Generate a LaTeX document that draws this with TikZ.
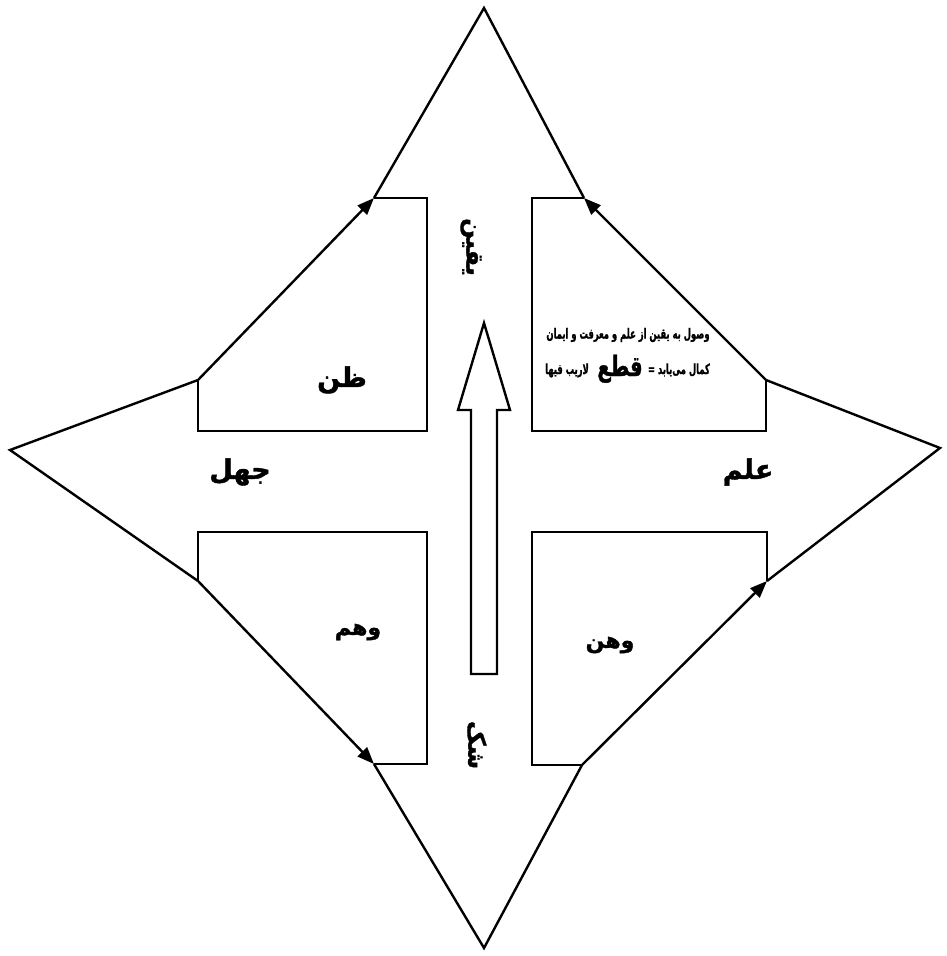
\documentclass[tikz,border=0pt]{standalone}
\usepackage{fontspec}
\usetikzlibrary{arrows.meta}
\TeXXeTstate=1
\newfontfamily\arabicfont[Script=Arabic,BoldFeatures={FakeBold=1.5}]{DejaVu Sans}
\tikzset{
  edge/.style={line width=2.4pt, line join=miter},
  arr/.style={edge, -{Triangle[length=17pt,width=13pt]}},
  word/.style={font=\arabicfont\bfseries\fontsize{27}{30}\selectfont, inner sep=0pt},
  midword/.style={font=\arabicfont\bfseries\fontsize{22}{26}\selectfont, inner sep=0pt},
  small/.style={font=\arabicfont\bfseries\fontsize{14}{16}\selectfont, inner sep=0pt, xscale=0.6, transform shape},
  bigq/.style={font=\arabicfont\bfseries\fontsize{28}{30}\selectfont, inner sep=0pt, xscale=0.7, transform shape}
}
\begin{document}
\begin{tikzpicture}[x=1pt,y=-1pt]
\useasboundingbox (0,0) rectangle (947,956);
% apexes
\coordinate (top) at (484,8);
\coordinate (bot) at (484,948);
\coordinate (lft) at (10,450);
\coordinate (rgt) at (940,448);
% corners
\coordinate (tl1) at (374,198);
\coordinate (tl2) at (198,380);
\coordinate (tr1) at (584,198);
\coordinate (tr2) at (766,380);
\coordinate (bl1) at (198,581);
\coordinate (bl2) at (374,764);
\coordinate (br1) at (582,765);
\coordinate (br2) at (767,581);
% outer star lines
\draw[edge] (tl1) -- (top) -- (tr1);
\draw[edge] (tl2) -- (lft) -- (bl1);
\draw[edge] (tr2) -- (rgt) -- (br2);
\draw[edge] (bl2) -- (bot) -- (br1);
% arrows
\draw[arr] (tl2) -- (tl1);
\draw[arr] (tr2) -- (tr1);
\draw[arr] (bl1) -- (bl2);
\draw[arr] (br1) -- (br2);
% quadrant frames
\draw[edge] (tl1) -- (427,198) -- (427,431) -- (198,431) -- (tl2);
\draw[edge] (tr1) -- (532,198) -- (532,431) -- (766,431) -- (tr2);
\draw[edge] (bl1) -- (198,532) -- (427,532) -- (427,764) -- (bl2);
\draw[edge] (br2) -- (767,532) -- (532,532) -- (532,765) -- (br1);
% central hollow arrow
\draw[edge, fill=white] (471,674) -- (471,410) -- (458,410) -- (484,323) -- (510,410) -- (497,410) -- (497,674) -- cycle;
% labels
\node[word] (zan) at (342,380) {\beginR ظن\endR};
\node[word] (jahl) at (240,472) {\beginR جهل\endR};
\node[word] (elm) at (748,472) {\beginR علم\endR};
\node[midword] (vahm) at (358,632) {\beginR وهم\endR};
\node[midword] (vahn) at (610,645) {\beginR وهن\endR};
\node[word, font=\arabicfont\bfseries\fontsize{24}{28}\selectfont, rotate=-90] (yaqin) at (471,247) {\beginR یقین\endR};
\node[word, font=\arabicfont\bfseries\fontsize{24}{28}\selectfont, rotate=-90] (shak) at (477,745) {\beginR شک\endR};
\node[small] (l1) at (628,335) {\beginR وصول به یقین از علم و معرفت و ایمان\endR};
\node[small, anchor=base east] (l2r) at (710,374) {\beginR کمال می‌یابد =\endR};
\node[bigq, anchor=base] (qat) at (620,376) {\beginR قطع\endR};
\node[small, anchor=base west] (l2l) at (545,374) {\beginR لاریب فیها\endR};
\end{tikzpicture}
\end{document}
